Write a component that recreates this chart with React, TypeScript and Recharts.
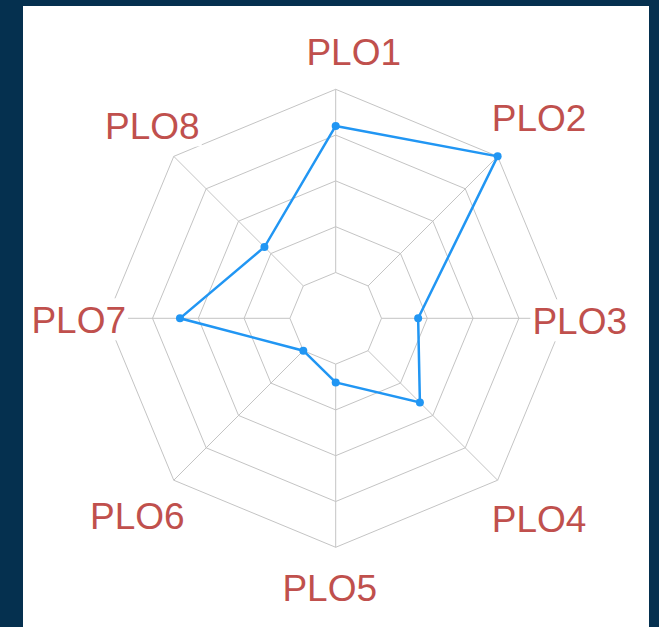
import React from 'react';
import { RadarChart, Radar, PolarGrid, PolarAngleAxis, PolarRadiusAxis } from 'recharts';

// outcome labels and scores (scale 1..5)
const plos = ['PLO1', 'PLO2', 'PLO3', 'PLO4', 'PLO5', 'PLO6', 'PLO7', 'PLO8'];
const scores = [4.2, 5.0, 1.8, 2.6, 1.4, 1.0, 3.4, 2.2];

const data = plos.map((plo, i) => ({ plo, score: scores[i] }));

const CX = 312.7;
const CY = 312.3;
const LABEL_COLOR = '#c0504d';
const LINE_COLOR = '#2196f3';
const FONT_SIZE = 37;
// small per-label tweaks so the labels land where the original put them
const LABEL_NUDGE: [number, number][] = [
  [18, 0], [9, 5], [-8, 2], [9, -6], [-6, 2], [-4, -9], [-5, 1], [11, 13],
];

const renderTick = (props: any) => {
  const { x, y, payload, index } = props;
  const dx = x - CX;
  const dy = y - CY;
  const len = Math.sqrt(dx * dx + dy * dy) || 1;
  const c = dx / len;
  const s = dy / len;
  const nudge = LABEL_NUDGE[index] || [0, 0];
  // labels sit on a squashed ring, corners pushed out a bit
  const lx = CX + Math.sign(c) * Math.pow(Math.abs(c), 0.75) * 252 + nudge[0];
  const ly = CY + Math.sign(s) * Math.pow(Math.abs(s), 0.75) * 267 + nudge[1];
  const text = String(payload.value);
  const w = text.length * FONT_SIZE * 0.64;
  return (
    <g>
      <rect x={lx - w / 2 - 2} y={ly - 21} width={w + 4} height={42} fill="#fff" />
      <text
        x={lx}
        y={ly}
        dy="0.36em"
        textAnchor="middle"
        fill={LABEL_COLOR}
        fontSize={FONT_SIZE}
        fontFamily="'Liberation Sans', Arial, Helvetica, sans-serif"
      >
        {text}
      </text>
    </g>
  );
};

const App: React.FC = () => {
  return (
    <div style={{ position: 'absolute', left: 0, top: 0, width: 659, height: 627, background: '#05304f', overflow: 'hidden' }}>
      <div style={{ position: 'absolute', left: 23, top: 6, width: 626, height: 621, background: '#ffffff' }}>
        <RadarChart
          width={626}
          height={621}
          data={data}
          cx={CX}
          cy={CY}
          innerRadius={45.8}
          outerRadius={229}
          margin={{ top: 0, right: 0, bottom: 0, left: 0 }}
        >
          <PolarGrid gridType="polygon" stroke="#c4c4c4" strokeWidth={1} />
          <PolarRadiusAxis domain={[1, 5]} tickCount={5} tick={false} axisLine={false} />
          <PolarAngleAxis dataKey="plo" tick={renderTick} tickLine={false} axisLine={false} />
          <Radar
            dataKey="score"
            stroke={LINE_COLOR}
            strokeWidth={2.5}
            fill={LINE_COLOR}
            fillOpacity={0}
            dot={{ r: 4, fill: LINE_COLOR, stroke: LINE_COLOR, strokeWidth: 0, fillOpacity: 1 }}
            isAnimationActive={false}
          />
        </RadarChart>
      </div>
    </div>
  );
};

export default App;
